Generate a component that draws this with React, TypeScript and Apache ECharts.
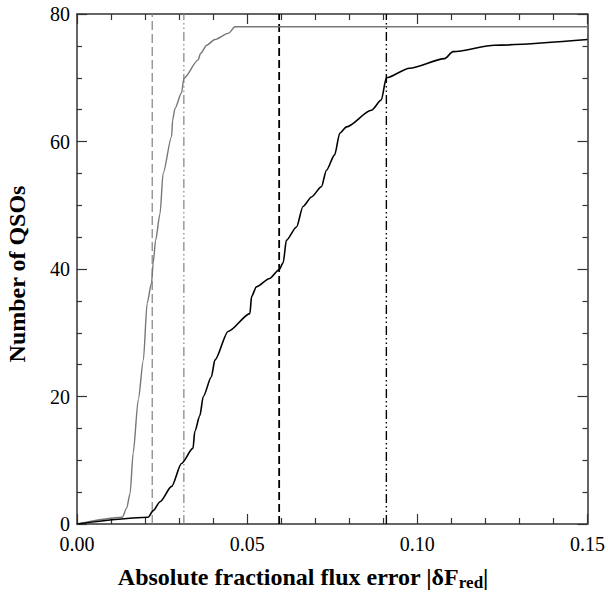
import React, { useEffect, useRef } from "react";
import * as echarts from "echarts";

// Gray cumulative curve (x: |dF|, y: number of QSOs)
const grayX = [0, 0.0133, 0.0146, 0.0156, 0.0165, 0.018, 0.0195, 0.0206, 0.0219, 0.0224, 0.0231, 0.0244, 0.0253, 0.0278, 0.0281, 0.0288, 0.0307, 0.0314, 0.0356, 0.0363, 0.0381, 0.0405, 0.0446, 0.0464, 0.15];
const grayY = [0, 1.05, 2.5, 4.8, 11.1, 19.5, 25.7, 34.6, 37.8, 41, 44.5, 48.7, 55.0, 60.8, 63.4, 65.2, 67.6, 69.9, 72.8, 73.8, 75.1, 76, 77, 78, 78];

// Black cumulative curve
const blackX = [0, 0.0209, 0.0224, 0.0244, 0.0278, 0.0307, 0.0341, 0.0346, 0.0361, 0.0371, 0.0395, 0.0405, 0.0444, 0.0508, 0.0513, 0.0527, 0.0566, 0.0594, 0.0606, 0.0615, 0.0645, 0.0664, 0.0689, 0.0718, 0.0733, 0.0757, 0.0772, 0.0792, 0.0865, 0.0894, 0.0909, 0.0977, 0.108, 0.1105, 0.1227, 0.15];
const blackY = [0, 1.05, 2.1, 3.5, 5.9, 9.5, 11.9, 14.5, 17, 20, 23.1, 25.7, 30.2, 33.0, 35.7, 37.2, 38.5, 39.9, 41, 44.5, 46.6, 49.8, 51.3, 52.9, 55.5, 57.9, 61.3, 62.3, 64.9, 66.5, 70, 71.5, 73.0, 74.1, 75.1, 76];

// Vertical reference lines (gray median, gray 90%, black median, black 90%)
const vlineX = [0.0221, 0.0314, 0.0594, 0.0909];

const xTicks = [0, 0.05, 0.1, 0.15];
const yTicks = [0, 20, 40, 60, 80];

const vlineStyles = [
  { color: "#808080", width: 1.2, type: [9, 4] },
  { color: "#808080", width: 1.2, type: [9, 3, 1.5, 3, 1.5, 3] },
  { color: "#000000", width: 1.8, type: [8, 4] },
  { color: "#000000", width: 1.4, type: [9, 3, 1.5, 3, 1.5, 3] },
];

const FONT = "'Liberation Serif', 'Times New Roman', serif";

export default function App() {
  const ref = useRef<HTMLDivElement>(null);
  useEffect(() => {
    if (!ref.current) return;
    const chart = echarts.init(ref.current, undefined, { renderer: "svg" });
    const axisLine = { show: true, onZero: false, lineStyle: { color: "#333", width: 1.5 } };
    const xCommon = {
      type: "value" as const,
      min: xTicks[0],
      max: xTicks[xTicks.length - 1],
      interval: xTicks[1] - xTicks[0],
      axisLine,
      axisTick: { show: true, inside: true, length: 10, lineStyle: { color: "#333", width: 1.2 } },
      minorTick: { show: true, splitNumber: 5, length: 6, lineStyle: { color: "#333", width: 1.2 } },
      splitLine: { show: false },
      minorSplitLine: { show: false },
    };
    const yCommon = {
      type: "value" as const,
      min: yTicks[0],
      max: yTicks[yTicks.length - 1],
      interval: yTicks[1] - yTicks[0],
      axisLine,
      axisTick: { show: true, inside: true, length: 10, lineStyle: { color: "#333", width: 1.2 } },
      minorTick: { show: true, splitNumber: 4, length: 5, lineStyle: { color: "#333", width: 1.2 } },
      splitLine: { show: false },
      minorSplitLine: { show: false },
    };
    const vlineSeries = vlineX.map((x, i) => ({
      type: "line" as const,
      data: [
        [x, yTicks[0]],
        [x, yTicks[yTicks.length - 1]],
      ],
      symbol: "none",
      silent: true,
      lineStyle: vlineStyles[i],
      z: 1,
    }));
    chart.setOption({
      animation: false,
      grid: { left: 77, right: 20, top: 14, bottom: 72, containLabel: false },
      xAxis: [
        {
          ...xCommon,
          position: "bottom",
          axisLabel: {
            show: true,
            margin: 10,
            fontFamily: FONT,
            fontSize: 20,
            color: "#000",
            formatter: (v: number) => v.toFixed(2),
          },
        },
        { ...xCommon, position: "top", axisLabel: { show: false } },
      ],
      yAxis: [
        {
          ...yCommon,
          position: "left",
          axisLabel: { show: true, margin: 7, fontFamily: FONT, fontSize: 20, color: "#000" },
        },
        { ...yCommon, position: "right", axisLabel: { show: false } },
      ],
      series: [
        ...vlineSeries,
        {
          type: "line",
          data: grayX.map((x, i) => [x, grayY[i]]),
          symbol: "none",
          smooth: 0.25,
          smoothMonotone: "x",
          lineStyle: { color: "#777777", width: 1.4 },
          z: 3,
        },
        {
          type: "line",
          data: blackX.map((x, i) => [x, blackY[i]]),
          symbol: "none",
          smooth: 0.25,
          smoothMonotone: "x",
          lineStyle: { color: "#000000", width: 1.6 },
          z: 4,
        },
      ],
      graphic: [
        {
          type: "text",
          x: 17,
          y: 274,
          rotation: Math.PI / 2,
          style: {
            text: "Number of QSOs",
            font: `bold 24px ${FONT}`,
            fill: "#000",
            align: "center",
            verticalAlign: "middle",
          },
        },
        {
          type: "text",
          x: 303,
          y: 577,
          style: {
            text: "Absolute fractional flux error |δF{s|red}|",
            font: `bold 24px ${FONT}`,
            fill: "#000",
            align: "center",
            verticalAlign: "middle",
            rich: {
              s: {
                font: `bold 17px ${FONT}`,
                fill: "#000",
                padding: [10, 0, 0, 0],
              },
            },
          },
        },
      ],
    });
    return () => chart.dispose();
  }, []);
  return <div ref={ref} style={{ width: 608, height: 596, position: "absolute", left: 0, top: 0 }} />;
}
